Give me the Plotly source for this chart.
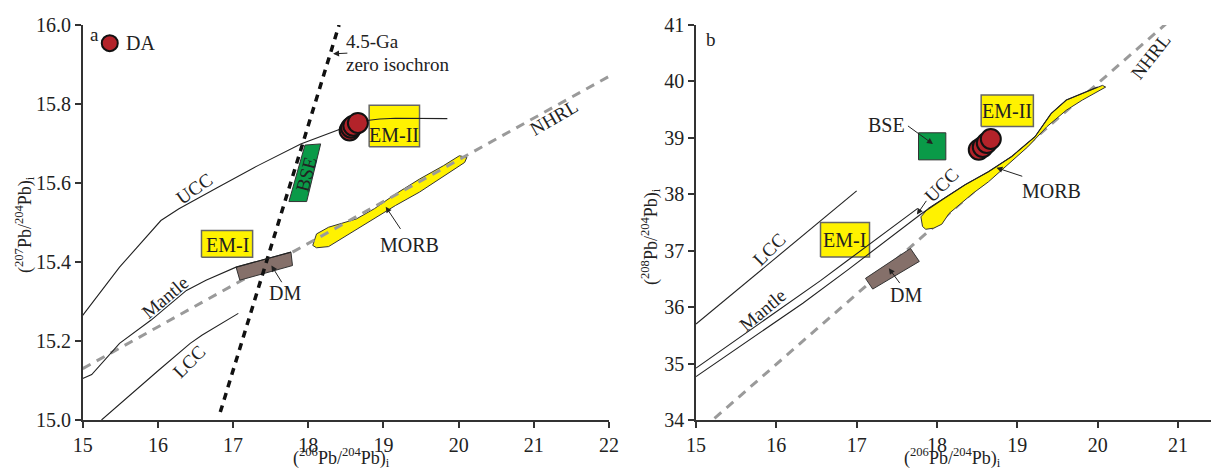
import plotly.graph_objects as go

# ---------------- Panel a: 207Pb/204Pb vs 206Pb/204Pb ----------------
ucc_a_x = [15.0, 15.49, 16.04, 16.28, 16.80, 17.33, 17.90, 18.43, 18.64, 18.95, 19.16, 19.85]
ucc_a_y = [15.265, 15.387, 15.505, 15.535, 15.589, 15.644, 15.699, 15.737, 15.755, 15.762, 15.764, 15.763]

mantle_a_x = [15.0, 15.12, 15.49, 15.91, 16.38, 16.64, 17.04, 17.77]
mantle_a_y = [15.105, 15.115, 15.194, 15.253, 15.328, 15.354, 15.387, 15.425]

lcc_a_x = [15.25, 15.65, 16.01, 16.43, 16.59, 17.07]
lcc_a_y = [15.0, 15.067, 15.126, 15.194, 15.215, 15.270]

nhrl_a_x = [15.0, 22.0]
nhrl_a_y = [15.13, 15.87]

isochron_x = [16.83, 18.41]
isochron_y = [15.02, 16.0]

bse_a_x = [17.956, 18.165, 17.979, 17.743]
bse_a_y = [15.696, 15.699, 15.553, 15.553]

dm_a_x = [17.04, 17.77, 17.79, 17.09]
dm_a_y = [15.387, 15.425, 15.391, 15.354]

em1_a_x = [16.58, 17.26, 17.26, 16.58]
em1_a_y = [15.412, 15.412, 15.480, 15.480]

em2_a_x = [18.81, 19.48, 19.48, 18.81]
em2_a_y = [15.692, 15.692, 15.797, 15.797]

morb_a_x = [18.06, 18.11, 18.27, 18.64, 18.88, 19.16, 19.48, 19.80, 20.01, 20.11,
            20.08, 19.69, 19.48, 19.16, 18.95, 18.48, 18.27, 18.11]
morb_a_y = [15.442, 15.471, 15.488, 15.509, 15.535, 15.572, 15.610, 15.644, 15.669, 15.665,
            15.652, 15.602, 15.577, 15.543, 15.518, 15.463, 15.439, 15.436]

da_a_x = [18.55, 18.57, 18.60, 18.66]
da_a_y = [15.733, 15.740, 15.745, 15.752]

# ---------------- Panel b: 208Pb/204Pb vs 206Pb/204Pb ----------------
lcc_b_x = [15.0, 17.0]
lcc_b_y = [35.70, 38.06]

mantle_b_x = [15.0, 16.55, 16.89, 17.76]
mantle_b_y = [34.92, 36.47, 36.83, 37.75]

ucc_b_x = [15.0, 16.33, 16.89, 17.81, 18.06, 18.35, 18.64, 18.93, 19.22, 19.42, 19.61, 20.0]
ucc_b_y = [34.77, 36.07, 36.66, 37.66, 37.90, 38.17, 38.40, 38.67, 39.02, 39.43, 39.67, 39.90]

nhrl_b_x = [15.23, 20.85]
nhrl_b_y = [34.03, 41.02]

bse_b_x = [17.77, 18.11, 18.11, 17.77]
bse_b_y = [38.61, 38.61, 39.09, 39.09]

dm_b_x = [17.11, 17.67, 17.78, 17.20]
dm_b_y = [36.51, 37.04, 36.81, 36.32]

em1_b_x = [16.55, 17.16, 17.16, 16.55]
em1_b_y = [36.89, 36.89, 37.50, 37.50]

em2_b_x = [18.55, 19.20, 19.20, 18.55]
em2_b_y = [39.20, 39.20, 39.76, 39.76]

morb_b_x = [17.82, 17.80, 17.89, 18.06, 18.35, 18.64, 18.93, 19.22, 19.42, 19.61, 19.91, 20.06,
            20.10, 19.81, 19.61, 19.37, 19.13, 18.88, 18.64, 18.45, 18.30, 18.15, 18.06, 17.96, 17.86]
morb_b_y = [37.43, 37.60, 37.75, 37.90, 38.17, 38.40, 38.67, 39.02, 39.43, 39.67, 39.85, 39.93,
            39.90, 39.67, 39.49, 39.20, 38.84, 38.52, 38.22, 38.02, 37.84, 37.66, 37.47, 37.40, 37.38]

da_b_x = [18.52, 18.57, 18.62, 18.67]
da_b_y = [38.79, 38.84, 38.91, 38.98]

# ---------------- styling ----------------
FONT = "Liberation Serif, Times New Roman, serif"
TXT = "#222222"
RED = "#B3232A"
YELLOW = "#FFF200"
GREEN = "#0A9A48"
BROWN = "#85706A"
NHRL_GRAY = "#9A9A9A"

fig = go.Figure()


def line(x, y, xa, ya, color="#222222", width=1.1, dash=None):
    fig.add_trace(go.Scatter(x=x, y=y, mode="lines", xaxis=xa, yaxis=ya,
                             line=dict(color=color, width=width, dash=dash),
                             hoverinfo="skip"))


def poly(x, y, xa, ya, fill, edge, width=1.0):
    fig.add_trace(go.Scatter(x=x + x[:1], y=y + y[:1], mode="lines", fill="toself",
                             fillcolor=fill, xaxis=xa, yaxis=ya,
                             line=dict(color=edge, width=width), hoverinfo="skip"))


def dots(x, y, xa, ya, size=20):
    fig.add_trace(go.Scatter(x=x, y=y, mode="markers", xaxis=xa, yaxis=ya,
                             marker=dict(size=size, color=RED,
                                         line=dict(color="#111111", width=2)),
                             hoverinfo="skip"))


# panel a
poly(morb_a_x, morb_a_y, "x", "y", YELLOW, "#333333", 1.0)
line(nhrl_a_x, nhrl_a_y, "x", "y", NHRL_GRAY, 3, "9px,7px")
poly(em1_a_x, em1_a_y, "x", "y", YELLOW, "#666666", 1.5)
poly(em2_a_x, em2_a_y, "x", "y", YELLOW, "#666666", 1.5)
poly(dm_a_x, dm_a_y, "x", "y", BROWN, "#333333", 1.0)
line(isochron_x, isochron_y, "x", "y", "#111111", 3.5, "7px,6px")
poly(bse_a_x, bse_a_y, "x", "y", GREEN, "#333333", 1.0)
line(ucc_a_x, ucc_a_y, "x", "y")
line(mantle_a_x, mantle_a_y, "x", "y")
line(lcc_a_x, lcc_a_y, "x", "y")
dots(da_a_x, da_a_y, "x", "y")
dots([15.36], [15.954], "x", "y", size=16)

# panel b
line(nhrl_b_x, nhrl_b_y, "x2", "y2", NHRL_GRAY, 3, "9px,7px")
poly(morb_b_x, morb_b_y, "x2", "y2", YELLOW, "#333333", 1.0)
poly(em1_b_x, em1_b_y, "x2", "y2", YELLOW, "#666666", 1.5)
poly(em2_b_x, em2_b_y, "x2", "y2", YELLOW, "#666666", 1.5)
poly(dm_b_x, dm_b_y, "x2", "y2", BROWN, "#333333", 1.0)
poly(bse_b_x, bse_b_y, "x2", "y2", GREEN, "#333333", 1.0)
line(lcc_b_x, lcc_b_y, "x2", "y2")
line(mantle_b_x, mantle_b_y, "x2", "y2")
line(ucc_b_x, ucc_b_y, "x2", "y2")
dots(da_b_x, da_b_y, "x2", "y2")

ann = []


def text(x, y, s, xa, ya, size=20, angle=0, xanchor="center"):
    ann.append(dict(x=x, y=y, xref=xa, yref=ya, text=s, showarrow=False,
                    textangle=angle, xanchor=xanchor, yanchor="middle",
                    font=dict(family=FONT, size=size, color=TXT)))


def arrow(x, y, ax, ay, xa, ya):
    ann.append(dict(x=x, y=y, ax=ax, ay=ay, xref=xa, yref=ya, axref=xa, ayref=ya,
                    text="", showarrow=True, arrowhead=2, arrowsize=1.2,
                    arrowwidth=1, arrowcolor="#222222"))


def title(px, py, s, angle=0):
    ann.append(dict(x=px / 1211, y=1 - py / 468, xref="paper", yref="paper", text=s,
                    textangle=angle, xanchor="center", yanchor="middle",
                    showarrow=False, font=dict(family=FONT, size=18, color=TXT)))


# panel a labels
text(15.16, 15.975, "a", "x", "y", 19)
text(15.55, 15.954, "DA", "x", "y", 20, xanchor="left")
text(18.47, 15.957, "4.5-Ga", "x", "y", 19, xanchor="left")
text(18.47, 15.901, "zero isochron", "x", "y", 19, xanchor="left")
arrow(18.33, 15.927, 18.54, 15.929, "x", "y")
text(16.49, 15.585, "UCC", "x", "y", 19, -35)
text(16.09, 15.311, "Mantle", "x", "y", 19, -40)
text(16.42, 15.147, "LCC", "x", "y", 19, -45)
text(17.98, 15.623, "BSE", "x", "y", 19, -75)
text(16.92, 15.444, "EM-I", "x", "y", 20)
text(19.14, 15.722, "EM-II", "x", "y", 20)
text(17.69, 15.322, "DM", "x", "y", 20)
arrow(17.51, 15.391, 17.66, 15.345, "x", "y")
text(19.35, 15.442, "MORB", "x", "y", 20)
arrow(19.03, 15.54, 19.24, 15.48, "x", "y")
text(21.27, 15.766, "NHRL", "x", "y", 19, -30)

# panel b labels
text(15.19, 40.75, "b", "x2", "y2", 19)
text(17.37, 39.22, "BSE", "x2", "y2", 20)
arrow(17.95, 38.89, 17.62, 39.23, "x2", "y2")
text(18.87, 39.48, "EM-II", "x2", "y2", 20)
text(16.85, 37.19, "EM-I", "x2", "y2", 20)
text(17.62, 36.22, "DM", "x2", "y2", 20)
arrow(17.40, 36.69, 17.55, 36.40, "x2", "y2")
text(19.42, 38.05, "MORB", "x2", "y2", 20)
arrow(18.74, 38.47, 19.08, 38.31, "x2", "y2")
text(18.05, 38.16, "UCC", "x2", "y2", 19, -45)
arrow(17.75, 37.64, 17.88, 37.91, "x2", "y2")
text(15.91, 37.02, "LCC", "x2", "y2", 19, -45)
text(15.84, 35.95, "Mantle", "x2", "y2", 19, -40)
text(20.66, 40.44, "NHRL", "x2", "y2", 19, -52)

# axis titles
x_title = "(<sup>206</sup>Pb/<sup>204</sup>Pb)<sub>i</sub>"
title(341, 457, x_title)
title(952, 457, x_title)
title(24, 225, "(<sup>207</sup>Pb/<sup>204</sup>Pb)<sub>i</sub>", -90)
title(650, 237, "(<sup>208</sup>Pb/<sup>204</sup>Pb)<sub>i</sub>", -90)

axis_common = dict(showline=True, linecolor="#333333", linewidth=1.5, showgrid=False,
                   zeroline=False, ticks="outside", ticklen=6, tickwidth=1.5,
                   tickcolor="#333333", automargin=False,
                   tickfont=dict(family=FONT, size=20, color=TXT))

y_dom = [48 / 468, 443 / 468]
fig.update_layout(
    width=1211, height=468,
    margin=dict(l=0, r=0, t=0, b=0, autoexpand=False),
    paper_bgcolor="white", plot_bgcolor="white",
    showlegend=False,
    font=dict(family=FONT),
    xaxis=dict(domain=[82.7 / 1211, 609 / 1211], range=[15, 22], dtick=1,
               anchor="y", **axis_common),
    yaxis=dict(domain=y_dom, range=[15, 16], dtick=0.2, tickformat=".1f",
               anchor="x", **axis_common),
    xaxis2=dict(domain=[696 / 1211, 1.0], range=[15, 15 + 515 / 80.33], dtick=1,
                anchor="y2", **axis_common),
    yaxis2=dict(domain=y_dom, range=[34, 41], dtick=1, anchor="x2", **axis_common),
    annotations=ann,
)

fig.write_html("out.html")
